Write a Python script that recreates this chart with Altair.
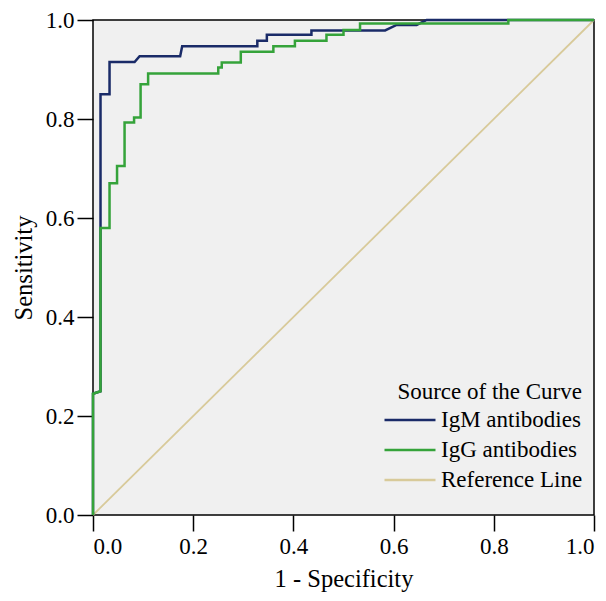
import altair as alt
import pandas as pd

# IgM antibodies ROC vertices (1 - specificity, sensitivity)
igm_x = [0, 0, 0.015, 0.015, 0.033, 0.033, 0.083, 0.093, 0.174, 0.178, 0.328, 0.328,
         0.347, 0.347, 0.436, 0.436, 0.583, 0.606, 0.646, 0.666, 1.0]
igm_y = [0, 0.245, 0.25, 0.85, 0.85, 0.915, 0.915, 0.927, 0.927, 0.947, 0.947, 0.958,
         0.958, 0.97, 0.97, 0.979, 0.979, 0.99, 0.99, 1.0, 1.0]

# IgG antibodies ROC vertices
igg_x = [0, 0, 0.015, 0.015, 0.033, 0.033, 0.048, 0.048, 0.063, 0.063, 0.082, 0.082,
         0.095, 0.095, 0.11, 0.11, 0.25, 0.25, 0.257, 0.257, 0.295, 0.295, 0.36, 0.36,
         0.403, 0.403, 0.466, 0.466, 0.5, 0.5, 0.533, 0.533, 0.829, 0.829, 1.0]
igg_y = [0, 0.245, 0.25, 0.58, 0.58, 0.67, 0.67, 0.705, 0.705, 0.793, 0.793, 0.803,
         0.803, 0.87, 0.87, 0.892, 0.892, 0.904, 0.904, 0.914, 0.914, 0.936, 0.936, 0.947,
         0.947, 0.958, 0.958, 0.97, 0.97, 0.98, 0.98, 0.993, 0.993, 1.0, 1.0]

# Reference line
ref_x = [0, 1]
ref_y = [0, 1]

series_names = ["IgM antibodies", "IgG antibodies", "Reference Line"]
series_colors = ["#1a2b68", "#35a33a", "#d8ca9a"]
x_ticks = [0, 0.2, 0.4, 0.6, 0.8, 1.0]

rows = []
for name, xs, ys in [(series_names[0], igm_x, igm_y),
                     (series_names[1], igg_x, igg_y),
                     (series_names[2], ref_x, ref_y)]:
    for i, (a, b) in enumerate(zip(xs, ys)):
        rows.append({"series": name, "fpr": a, "tpr": b, "idx": i})
df = pd.DataFrame(rows)

FONT = "Liberation Serif"

color = alt.Color(
    "series:N",
    scale=alt.Scale(domain=series_names, range=series_colors),
    legend=alt.Legend(
        title="Source of the Curve",
        orient="none",
        legendX=290,
        legendY=361,
        symbolType="stroke",
        symbolSize=2600,
        symbolStrokeWidth=2.5,
        clipHeight=30,
        titleFont=FONT,
        labelFont=FONT,
        titleFontSize=23,
        labelFontSize=23,
        titleFontWeight="normal",
        titleColor="black",
        labelColor="black",
        titleAnchor="end",
        titleLimit=400,
        labelLimit=400,
        titlePadding=1,
        labelOffset=4,
        rowPadding=0,
        padding=0,
    ),
)

x = alt.X("fpr:Q", scale=alt.Scale(domain=[0, 1], nice=False),
          axis=alt.Axis(title="1 - Specificity", values=x_ticks, format=".1f",
                        grid=False, tickSize=16, tickWidth=1.5, tickColor="black",
                        domain=False, labelPadding=4, titlePadding=9,
                        labelFont=FONT, titleFont=FONT, labelFontSize=23,
                        titleFontSize=24.5, titleFontWeight="normal",
                        labelColor="black", titleColor="black"))
y = alt.Y("tpr:Q", scale=alt.Scale(domain=[0, 1], nice=False),
          axis=alt.Axis(title="Sensitivity", values=x_ticks, format=".1f",
                        grid=False, tickSize=16, tickWidth=1.5, tickColor="black",
                        domain=False, labelPadding=3, titlePadding=9,
                        labelFont=FONT, titleFont=FONT, labelFontSize=23,
                        titleFontSize=24.5, titleFontWeight="normal",
                        labelColor="black", titleColor="black"))

base = alt.Chart(df).mark_line(strokeWidth=2.5).encode(
    x=x, y=y, color=color, order="idx:Q"
)

ref = base.transform_filter(alt.datum.series == "Reference Line").mark_line(strokeWidth=1.8)
igm = base.transform_filter(alt.datum.series == "IgM antibodies")
igg = base.transform_filter(alt.datum.series == "IgG antibodies")

chart = alt.layer(ref, igm, igg).properties(
    width=501,
    height=495,
    padding={"left": 85, "top": 12, "right": 4, "bottom": 83},
    autosize=alt.AutoSizeParams(type="none"),
).configure_view(
    fill="#f0f0f0", stroke="black", strokeWidth=1.5
)

chart.save("out.html", embed_options={"renderer": "svg", "actions": False})
